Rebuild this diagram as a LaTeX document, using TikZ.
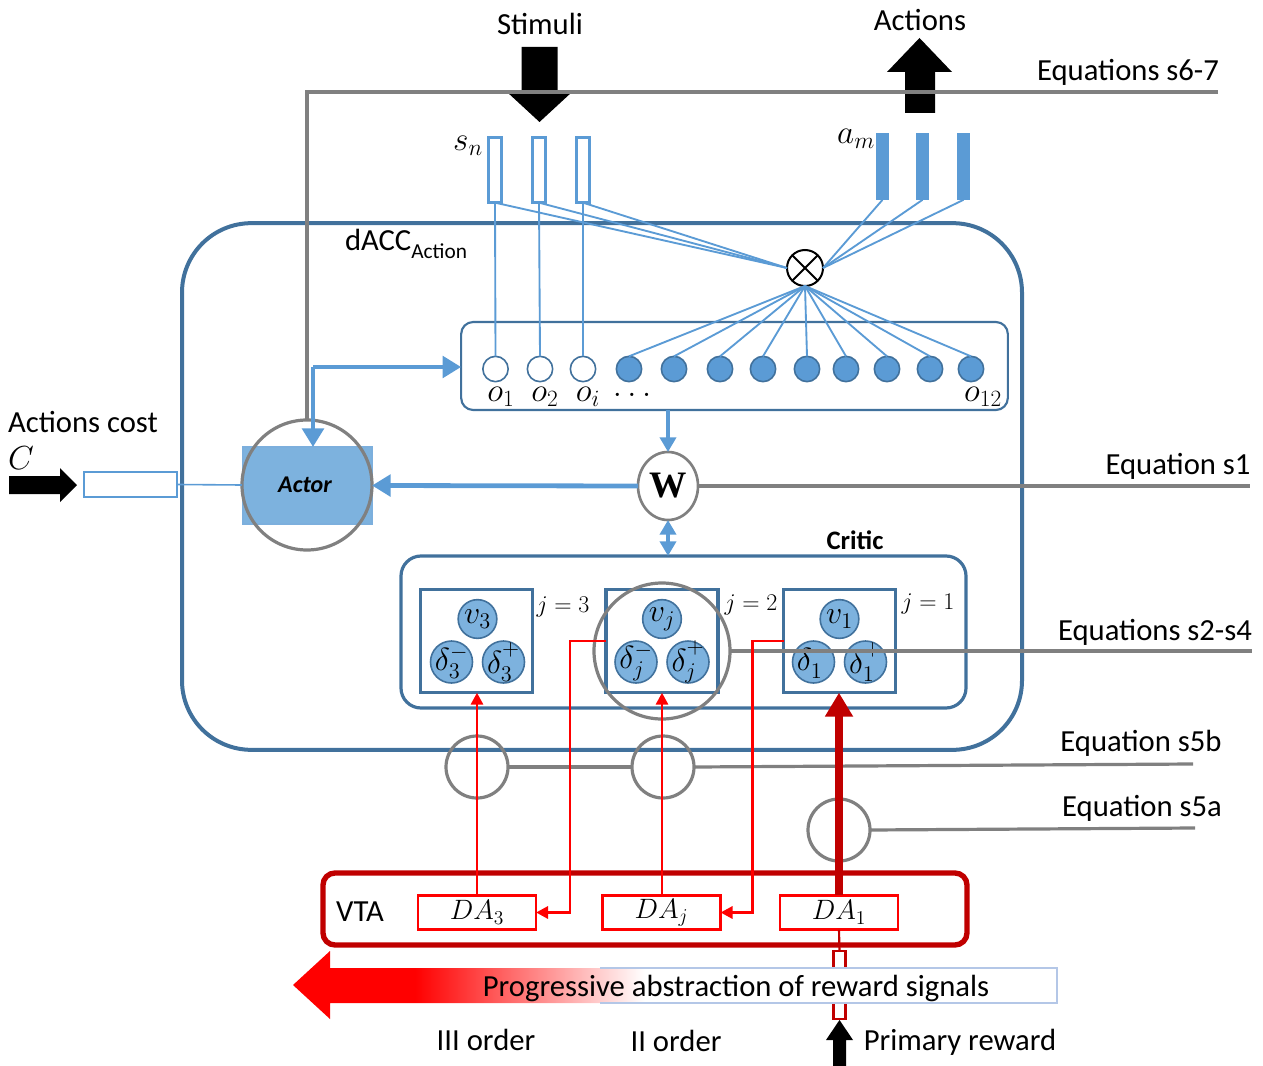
\documentclass[tikz,border=0pt]{standalone}
\usepackage{fix-cm}
\usepackage{fontspec}
\setmainfont{Carlito}
\newfontfamily\tnr{Liberation Serif}
\usetikzlibrary{arrows.meta,shapes.geometric,calc}
\definecolor{dblue}{RGB}{65,113,156}
\definecolor{lblue}{RGB}{91,155,213}
\definecolor{cblue}{RGB}{125,178,222}
\definecolor{ggray}{RGB}{128,128,128}
\definecolor{dred}{RGB}{192,0,0}
\definecolor{bandline}{RGB}{180,199,231}
\pgfdeclarehorizontalshading{redfade}{100bp}{color(0bp)=(red); color(33bp)=(red); color(48bp)=(white); color(100bp)=(white)}
\newcommand{\upplus}{\raisebox{0.18em}{$\scriptstyle +$}}
\begin{document}
\begin{tikzpicture}[x=0.75pt,y=-0.75pt,
  every node/.style={inner sep=0pt,outer sep=0pt},
  txt/.style={font=\fontsize{23}{27}\selectfont},
  mth/.style={font=\fontsize{25}{29}\selectfont},
  jlab/.style={font=\fontsize{18}{22}\selectfont},
  circlab/.style={font=\fontsize{24}{26}\selectfont},
  thinb/.style={draw=lblue,line width=1.4pt},
  gline/.style={draw=ggray,line width=2.4pt},
  gcirc/.style={circle,draw=ggray,line width=2.4pt},
  sbox/.style={rectangle,draw=lblue,line width=1.8pt,fill=white,minimum width=10pt,minimum height=49pt},
  abar/.style={rectangle,fill=lblue,minimum width=10pt,minimum height=50pt},
  ocirc/.style={circle,draw=dblue,line width=1.2pt,fill=white,minimum size=19pt},
  ofill/.style={ocirc,fill=lblue},
  ccirc/.style={circle,draw=dblue,line width=1.2pt,fill=cblue},
  vcirc/.style={ccirc,minimum size=29pt},
  dcirc/.style={ccirc,minimum size=31.5pt},
  subbox/.style={rectangle,draw=dblue,line width=2.6pt,minimum width=84pt,minimum height=77.5pt},
  dabox/.style={rectangle,draw=red,line width=2.2pt,fill=white,minimum width=88.5pt,minimum height=26pt,font=\fontsize{21}{24}\selectfont},
  bluearr/.style={draw=lblue,line width=3.6pt,-{Triangle[width=16pt,length=14pt]}},
  redarr/.style={draw=red,line width=2.2pt,-{Triangle[width=9pt,length=9pt]}},
  blockarr/.style={fill=black},
]
\useasboundingbox (0,0) rectangle (1263,1066);

% ---------- dACC ----------
\node[draw=dblue,line width=3pt,rounded corners=52pt,minimum width=630pt,minimum height=395pt] (dacc) at (602,486.5) {};
\node[txt,anchor=west] (dacclab) at (345,244) {dACC\raisebox{-6pt}{\fontsize{16}{18}\selectfont Action}};

% ---------- o box ----------
\node[draw=dblue,line width=1.6pt,rounded corners=9pt,minimum width=410pt,minimum height=66pt] (obox) at (734.5,366) {};
\foreach \x [count=\i] in {495.5,540,583} \node[ocirc] (o\i) at (\x,369) {};
\foreach \x [count=\i from 4] in {629,674,720,763,807,846,887,930,971} \node[ofill] (o\i) at (\x,369) {};
\node[mth] (lo1) at (501,397) {$o_1$};
\node[mth] (lo2) at (545,397) {$o_2$};
\node[mth] (loi) at (588,397) {$o_i$};
\node[mth] (lodots) at (632,395) {$\dots$};
\node[mth] (lo12) at (983,397) {$o_{12}$};

% ---------- stimuli / actions units ----------
\foreach \x [count=\i] in {495,539,583} \node[sbox] (s\i) at (\x,170) {};
\foreach \x [count=\i] in {882.5,922.5,963.5} \node[abar] (a\i) at (\x,166.5) {};
\node[mth] (sn) at (468,146) {$s_n$};
\node[mth] (am) at (856,139) {$a_m$};
\node[circle,draw=black,line width=1.5pt,minimum size=27pt,fill=white] (ot) at (805,268) {};
\draw[line width=1.5pt] (ot.north west) -- (ot.south east) (ot.north east) -- (ot.south west);
\foreach \i in {1,2,3} {
  \draw[thinb] (s\i.south) -- (ot.west);
  \draw[thinb] (s\i.south) -- (o\i.north);
  \draw[thinb] (ot.east) -- (a\i.south);
}
\foreach \i in {4,...,12} \draw[thinb] (ot.south) -- (o\i.north);

% ---------- block arrows Stimuli / Actions ----------
\node[txt] (stim) at (540,24) {Stimuli};
\node[txt] (act) at (920,20) {Actions};
\fill[blockarr] (521.5,47) -- (557.5,47) -- (557.5,92) -- (572,92) -- (539.5,122) -- (507,92) -- (521.5,92) -- cycle;
\fill[blockarr] (905,113) -- (935,113) -- (935,72) -- (952,72) -- (919.5,38) -- (887,72) -- (905,72) -- cycle;

% ---------- Actor ----------
\node[rectangle,fill=cblue,draw=lblue!80,line width=0.8pt,minimum width=96.75pt,minimum height=57.75pt] (arect) at (307.5,485.5) {};
\node[gcirc,minimum size=97.5pt] (acirc) at (307,485) {};
\node[font=\fontsize{18}{20}\selectfont\bfseries\itshape] (actor) at (305,485) {Actor};

% gray top line (Equations s6-7)
\coordinate (e67) at (1218,92);
\coordinate (gcorner) at (307,92);
\draw[gline] (e67) -- (gcorner) -- (acirc.north);
\node[txt] (eq67) at (1128,72) {Equations s6-7};

% blue feedback from top line
\coordinate (bj) at (313,367);
\draw[bluearr] (bj) -- (bj -| obox.west);
\draw[bluearr] (bj) -- (bj |- arect.north);

% Actions cost
\node[txt] (costlab) at (83,422) {Actions cost};
\node[mth] (clab) at (21,458) {$C$};
\fill[blockarr] (9,476) -- (60,476) -- (60,468) -- (77,485) -- (60,502) -- (60,494) -- (9,494) -- cycle;
\node[rectangle,draw=lblue,line width=1.8pt,minimum width=69.75pt,minimum height=18.75pt] (cost) at (130.5,484.5) {};
\draw[draw=lblue,line width=1.2pt] (cost.east) -- (acirc.west);

% ---------- W ----------
\node[ellipse,draw=ggray,line width=2pt,minimum width=45pt,minimum height=51pt,fill=white,font=\fontsize{28}{30}\selectfont\tnr\bfseries] (W) at (668,486) {W};
\draw[draw=lblue,line width=3pt,-{Triangle[width=12pt,length=11pt]}] (W |- obox.south) -- (W.north);
\draw[bluearr] (W.west) -- (arect.east);
\coordinate (e1) at (1250,486);
\draw[gline] (W.east) -- (e1);
\node[txt] (eq1) at (1178,466) {Equation s1};

% ---------- Critic ----------
\node[draw=dblue,line width=2.4pt,rounded corners=15pt,minimum width=423.75pt,minimum height=114pt] (critic) at (683.5,632) {};
\node[font=\fontsize{20}{24}\selectfont\bfseries] (criticlab) at (855,540) {Critic};
\draw[draw=lblue,line width=3pt,{Triangle[width=12pt,length=11pt]}-{Triangle[width=12pt,length=11pt]}] (W.south) -- (W |- critic.north);

\node[subbox] (b3) at (476.5,641) {};
\node[subbox] (bj2) at (662,641) {};
\node[subbox] (b1) at (839.5,641) {};

\node[vcirc] (v3) at (477.5,619) {};
\node[dcirc] (dm3) at (451.5,662) {};
\node[dcirc] (dp3) at (503.5,662) {};
\node[vcirc] (vj) at (662,619) {};
\node[dcirc] (dmj) at (636,662) {};
\node[dcirc] (dpj) at (688,662) {};
\node[vcirc] (v1) at (839.5,619) {};
\node[dcirc] (dm1) at (813.5,662) {};
\node[dcirc] (dp1) at (865.5,662) {};
\node[circlab] (lv3) at (v3) {$v_3$};
\node[circlab] (ldm3) at (dm3) {$\delta_3^-$};
\node[circlab] (ldp3) at (dp3) {$\delta_3^{\upplus}$};
\node[circlab] (lvj) at (vj) {$v_j$};
\node[circlab] (ldmj) at (dmj) {$\delta_j^-$};
\node[circlab] (ldpj) at (dpj) {$\delta_j^{\upplus}$};
\node[circlab] (lv1) at (v1) {$v_1$};
\node[circlab] (ldm1) at (dm1) {$\delta_1^-$};
\node[circlab] (ldp1) at (dp1) {$\delta_1^{\upplus}$};

\node[jlab] (j3) at (563,607) {$j\;{=}\;3$};
\node[jlab] (j2) at (751,605) {$j\;{=}\;2$};
\node[jlab] (j1) at (928,604) {$j\;{=}\;1$};

\node[gcirc,minimum size=102pt] (gj) at (662,651) {};
\coordinate (e24) at (1252,651);
\draw[gline] (gj.east) -- (e24);
\node[txt] (eq24) at (1155,632) {Equations s2-s4};

% ---------- lower gray circles ----------
\node[gcirc,minimum size=46.5pt] (c5b1) at (477,767) {};
\node[gcirc,minimum size=46.5pt] (c5b2) at (663,767) {};
\node[gcirc,minimum size=46.5pt] (c5a) at (839,830) {};
\coordinate (e5b) at (1193,764);
\coordinate (e5a) at (1195,828);
\draw[gline] (c5b1.east) -- (c5b2.west);
\draw[gline] (c5b2.east) -- (e5b);
\draw[gline] (c5a.east) -- (e5a);
\node[txt] (eq5b) at (1141,743) {Equation s5b};
\node[txt] (eq5a) at (1142,808) {Equation s5a};

% ---------- VTA ----------
\node[draw=dred,line width=4pt,rounded corners=9pt,minimum width=483pt,minimum height=54pt] (vta) at (645,909) {};
\node[txt] (vtalab) at (360,912) {VTA};
\node[dabox] (da3) at (477,912.5) {$DA_3$};
\node[dabox] (daj) at (661.5,912.5) {$DA_j$};
\node[dabox] (da1) at (839,912.5) {$DA_1$};

\draw[redarr] (da3.north) -- (b3.south -| da3.north);
\draw[redarr] (daj.north -| vj) -- (bj2.south -| vj);
\draw[draw=dred,line width=6pt,-{Triangle[width=20pt,length=18pt]}] (da1.north) -- (b1.south -| da1.north);
\draw[redarr] (bj2.west) -- ++(-36,0) |- (da3.east);
\draw[redarr] (b1.west) -- ++(-31,0) |- (daj.east);

% ---------- bottom ----------
\node[rectangle,draw=dred,line width=1.8pt,fill=white,minimum width=9pt,minimum height=51pt] (prect) at (839.5,985) {};
\draw[draw=dred,line width=1.6pt] (da1.south) -- (prect.north);
\shade[shading=redfade] (293,985) -- (330,951) -- (330,968) -- (1057,968) -- (1057,1003) -- (330,1003) -- (330,1019) -- cycle;
\draw[draw=bandline,line width=0.8pt] (600,968) -- (1057,968) -- (1057,1003) -- (600,1003);
\node[txt] (prog) at (736,988) {Progressive abstraction of reward signals};
\fill[blockarr] (833,1066) -- (846,1066) -- (846,1040) -- (853,1040) -- (839.5,1020) -- (826,1040) -- (833,1040) -- cycle;
\node[txt] (prim) at (960,1042) {Primary reward};
\node[txt] (o3) at (486,1040) {III order};
\node[txt] (o2) at (676,1041) {II order};
\end{tikzpicture}
\end{document}
